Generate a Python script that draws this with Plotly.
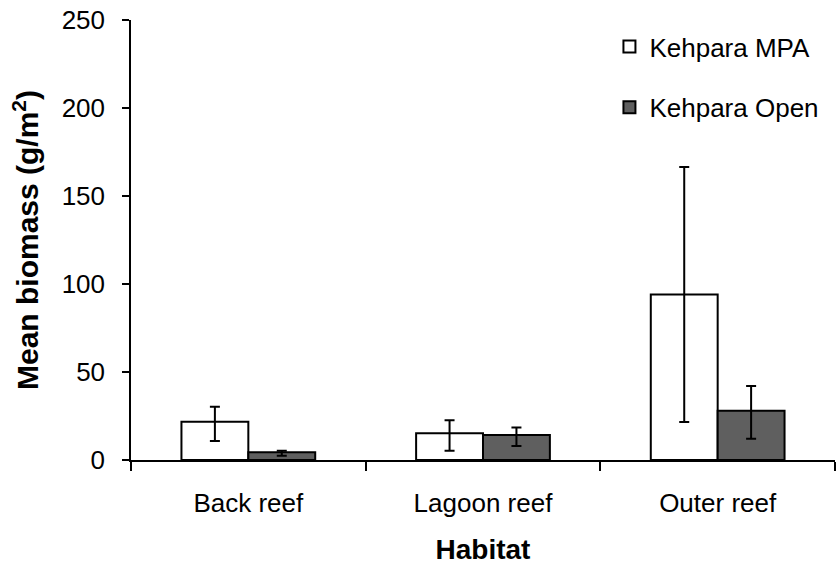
import plotly.graph_objects as go

# Mean fish biomass by habitat, with asymmetric error bars
habitats = ["Back reef", "Lagoon reef", "Outer reef"]

mpa_mean = [21.7, 15.2, 94.1]
mpa_err_hi = [30.3, 22.6, 166.5]
mpa_err_lo = [10.8, 5.3, 21.6]

open_mean = [4.4, 14.2, 28.0]
open_err_hi = [5.3, 18.4, 42.0]
open_err_lo = [2.4, 8.0, 12.1]

y_ticks = [0, 50, 100, 150, 200, 250]

FONT = "Liberation Sans, Arial, sans-serif"


def err(mean, hi, lo):
    return dict(
        type="data",
        symmetric=False,
        array=[h - m for h, m in zip(hi, mean)],
        arrayminus=[m - l for m, l in zip(mean, lo)],
        color="black",
        thickness=2,
        width=5,
    )


fig = go.Figure()
fig.add_trace(go.Bar(
    name="Kehpara MPA", x=habitats, y=mpa_mean,
    marker=dict(color="white", line=dict(color="black", width=2)),
    error_y=err(mpa_mean, mpa_err_hi, mpa_err_lo),
    legendgroup="a",
))
fig.add_trace(go.Bar(
    name="Kehpara Open", x=habitats, y=open_mean,
    marker=dict(color="#5f5f5f", line=dict(color="black", width=2)),
    error_y=err(open_mean, open_err_hi, open_err_lo),
    legendgroup="b",
))

fig.update_layout(
    width=836, height=570,
    margin=dict(l=131, r=1, t=20, b=110),
    paper_bgcolor="white", plot_bgcolor="white",
    barmode="group", bargap=0.43, bargroupgap=0,
    font=dict(family=FONT, size=26, color="black"),
    showlegend=True,
    legend=dict(
        x=0.985, y=0.993, xanchor="right", yanchor="top",
        bgcolor="rgba(0,0,0,0)", borderwidth=0,
        traceorder="grouped", tracegroupgap=24,
        font=dict(family=FONT, size=26, color="black"),
        itemwidth=30,
    ),
    xaxis=dict(
        type="category", range=[-0.5, 2.5],
        showline=True, linecolor="black", linewidth=1.5,
        ticks="outside", tickson="boundaries", ticklen=9,
        tickcolor="black", tickwidth=1.5,
        showgrid=False, zeroline=False,
        tickfont=dict(family=FONT, size=26),
        ticklabelstandoff=19,
        title=dict(text="<b>Habitat</b>", font=dict(family=FONT, size=28), standoff=22),
    ),
    yaxis=dict(
        range=[0, 250], tickvals=y_ticks,
        showline=True, linecolor="black", linewidth=1.5,
        ticks="outside", ticklen=7, tickcolor="black", tickwidth=1.5,
        showgrid=False, zeroline=False,
        tickfont=dict(family=FONT, size=26),
        ticklabelstandoff=12,
        title=dict(text="<b>Mean biomass (g/m<sup>2</sup>)</b>",
                   font=dict(family=FONT, size=30), standoff=14),
    ),
)

fig.write_html("out.html")
